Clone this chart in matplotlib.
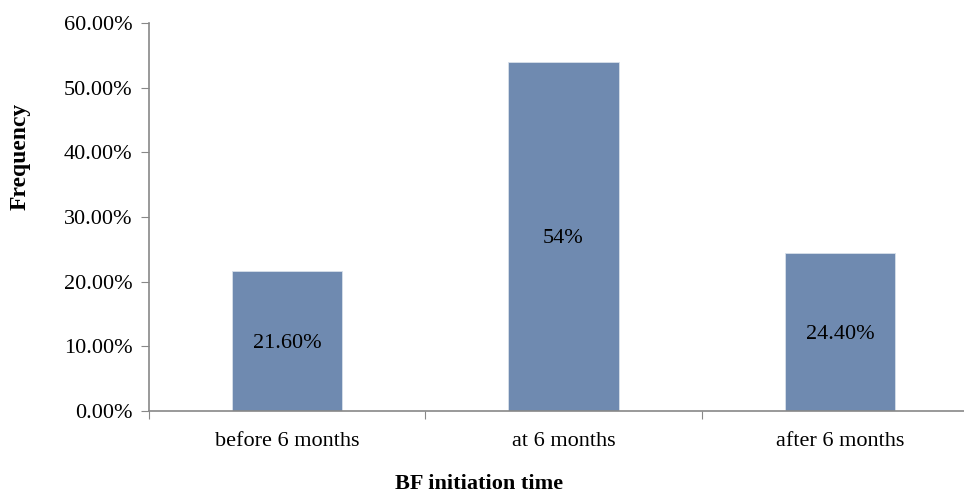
import matplotlib
matplotlib.use("Agg")
import matplotlib.pyplot as plt
from matplotlib.ticker import FuncFormatter

categories = ["before 6 months", "at 6 months", "after 6 months"]
values = [21.6, 54.0, 24.4]
value_labels = ["21.60%", "54%", "24.40%"]
y_ticks = [0, 10, 20, 30, 40, 50, 60]

plt.rcParams['font.family'] = ['Liberation Serif', 'DejaVu Serif']

fig = plt.figure(figsize=(9.64, 4.95), dpi=100)
W, H = 964, 495
left, right = 149, 978
bottom, top = 411, 23
ax = fig.add_axes([left / W, 1 - bottom / H, (right - left) / W, (bottom - top) / H])

x = range(len(categories))
bars = ax.bar(x, values, width=0.4, color="#6F8AB0", edgecolor="#D8E0EA", linewidth=0.6, zorder=2)
for xi, v, lab in zip(x, values, value_labels):
    ax.text(xi, v / 2, lab, ha="center", va="center_baseline", fontsize=16, color="black", zorder=3)

ax.set_xlim(-0.5, 2.5)
ax.set_ylim(0, 60)
ax.set_yticks(y_ticks)
ax.yaxis.set_major_formatter(FuncFormatter(lambda v, p: f"{v:.2f}%"))
ax.set_xticks([-0.5, 0.5, 1.5, 2.5])
ax.set_xticklabels([])
ax.set_xticks(list(x), minor=True)
ax.set_xticklabels(categories, minor=True)
ax.tick_params(axis="x", which="minor", length=0, pad=15, labelsize=16)
ax.tick_params(axis="x", which="major", length=6, direction="out", color="#888888")
ax.tick_params(axis="y", length=6, direction="out", color="#888888", labelsize=16, pad=6)

for s in ["top", "right"]:
    ax.spines[s].set_visible(False)
for s in ["left", "bottom"]:
    ax.spines[s].set_color("#888888")
    ax.spines[s].set_linewidth(1.2)

fig.text(20 / W, 1 - 156 / H, "Frequency", rotation=90, ha="center", va="center",
         fontsize=17, fontweight="bold")
fig.text(479 / W, 1 - 484 / H, "BF initiation time", ha="center", va="center",
         fontsize=16, fontweight="bold")

fig.savefig("out.png", dpi=100)
